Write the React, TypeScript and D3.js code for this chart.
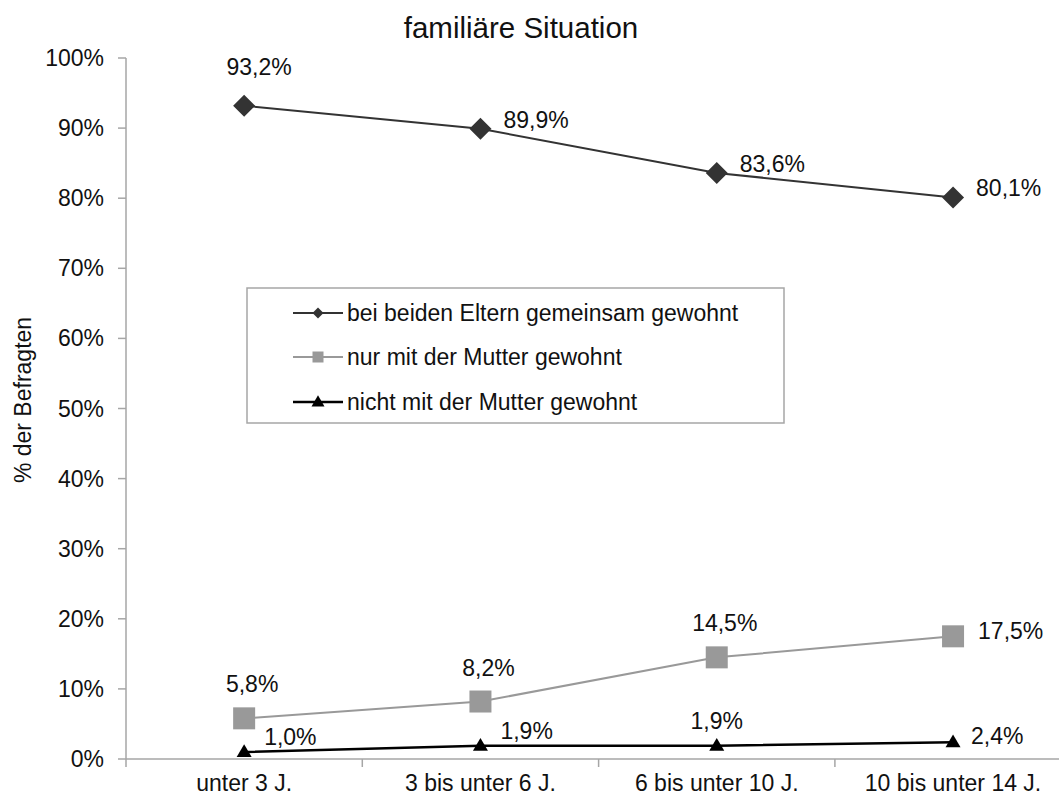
import React from "react";
import * as d3 from "d3";

const categories = ["unter 3 J.", "3 bis unter 6 J.", "6 bis unter 10 J.", "10 bis unter 14 J."];
const beideEltern = [93.2, 89.9, 83.6, 80.1];
const nurMutter = [5.8, 8.2, 14.5, 17.5];
const nichtMutter = [1.0, 1.9, 1.9, 2.4];
const yTicks = [0, 10, 20, 30, 40, 50, 60, 70, 80, 90, 100];
const seriesNames = [
  "bei beiden Eltern gemeinsam gewohnt",
  "nur mit der Mutter gewohnt",
  "nicht mit der Mutter gewohnt",
];
const title = "familiäre Situation";
const yLabel = "% der Befragten";

const W = 1059;
const H = 796;
const FONT = "Arial, 'Liberation Sans', Helvetica, sans-serif";

type Place = "above" | "right" | "rightLow";

const seriesCfg = [
  {
    values: beideEltern,
    color: "#333333",
    lineWidth: 2,
    marker: "diamond",
    places: ["above", "right", "right", "right"] as Place[],
    offsets: { above: [15, -31], right: [23, -1], rightLow: [23, 3] },
  },
  {
    values: nurMutter,
    color: "#999999",
    lineWidth: 2,
    marker: "square",
    places: ["above", "above", "above", "right"] as Place[],
    offsets: { above: [8, -26], right: [25, 3], rightLow: [25, 3] },
  },
  {
    values: nichtMutter,
    color: "#000000",
    lineWidth: 2.5,
    marker: "triangle",
    places: ["right", "right", "above", "rightLow"] as Place[],
    offsets: { above: [0, -17], right: [20, -7], rightLow: [18, 2] },
  },
];

function fmt(v: number) {
  return v.toFixed(1).replace(".", ",") + "%";
}

function Marker({ kind, x, y, size, color }: { kind: string; x: number; y: number; size: number; color: string }) {
  if (kind === "diamond") {
    const r = size / 2;
    return <path d={`M${x},${y - r}L${x + r},${y}L${x},${y + r}L${x - r},${y}Z`} fill={color} />;
  }
  if (kind === "square") {
    const r = size / 2;
    return <rect x={x - r} y={y - r} width={size} height={size} fill={color} />;
  }
  const w = size;
  const h = size * 0.85;
  return <path d={`M${x},${y - h * 0.6}L${x + w / 2},${y + h * 0.4}L${x - w / 2},${y + h * 0.4}Z`} fill={color} />;
}

export default function App() {
  const x0 = 126;
  const band = 236.3;
  const x = d3.scaleBand<string>().domain(categories).range([x0, x0 + band * categories.length]).paddingInner(0).paddingOuter(0);
  const y = d3.scaleLinear().domain([0, 100]).range([759, 58]);
  const cx = (c: string) => (x(c) as number) + x.bandwidth() / 2;

  const line = d3
    .line<number>()
    .x((_, i) => cx(categories[i]))
    .y((d) => y(d));

  const boundaries = categories.map((c) => x(c) as number).concat([x0 + band * categories.length]);

  const axisColor = "#a6a6a6";

  const legend = { x: 247, y: 288, w: 537, h: 135 };
  const legendRows = [313, 357, 402];

  return (
    <svg width={W} height={H} style={{ position: "absolute", left: 0, top: 0, background: "#fff" }} fontFamily={FONT}>
      <rect x={0} y={0} width={W} height={H} fill="#fff" />
      <text x={521} y={38} textAnchor="middle" fontSize={29.5} fill="#111">
        {title}
      </text>

      {/* y axis */}
      <line x1={x0} x2={x0} y1={y(100)} y2={y(0)} stroke={axisColor} strokeWidth={1.5} />
      {yTicks.map((t) => (
        <g key={t}>
          <line x1={x0 - 8} x2={x0} y1={y(t)} y2={y(t)} stroke={axisColor} strokeWidth={1.5} />
          <text x={104} y={y(t) + 8} textAnchor="end" fontSize={23} fill="#111">
            {t}%
          </text>
        </g>
      ))}
      <text transform={`translate(31,400) rotate(-90)`} textAnchor="middle" fontSize={23} fill="#111">
        {yLabel}
      </text>

      {/* x axis */}
      <line x1={x0} x2={boundaries[boundaries.length - 1]} y1={y(0)} y2={y(0)} stroke={axisColor} strokeWidth={1.5} />
      {boundaries.map((b, i) => (
        <line key={i} x1={b} x2={b} y1={y(0)} y2={y(0) + 8} stroke={axisColor} strokeWidth={1.5} />
      ))}
      {categories.map((c) => (
        <text key={c} x={cx(c)} y={791} textAnchor="middle" fontSize={23} fill="#111">
          {c}
        </text>
      ))}

      {/* series */}
      {seriesCfg.map((s, si) => (
        <g key={si}>
          <path d={line(s.values) as string} fill="none" stroke={s.color} strokeWidth={s.lineWidth} />
          {s.values.map((v, i) => (
            <Marker
              key={i}
              kind={s.marker}
              x={cx(categories[i])}
              y={y(v)}
              size={s.marker === "triangle" ? 15 : 22}
              color={s.color}
            />
          ))}
          {s.values.map((v, i) => {
            const p = s.places[i];
            const off = s.offsets[p];
            return (
              <text
                key={"l" + i}
                x={cx(categories[i]) + off[0]}
                y={y(v) + off[1]}
                textAnchor={p === "above" ? "middle" : "start"}
                fontSize={23}
                fill="#111"
              >
                {fmt(v)}
              </text>
            );
          })}
        </g>
      ))}

      {/* legend */}
      <rect x={legend.x} y={legend.y} width={legend.w} height={legend.h} fill="#fff" stroke={axisColor} strokeWidth={1.5} />
      {seriesCfg.map((s, i) => (
        <g key={i}>
          <line x1={293} x2={343} y1={legendRows[i]} y2={legendRows[i]} stroke={s.color} strokeWidth={s.lineWidth} />
          <Marker
            kind={s.marker}
            x={318}
            y={legendRows[i]}
            size={s.marker === "diamond" ? 11 : s.marker === "square" ? 11 : 13}
            color={s.color}
          />
          <text x={347} y={legendRows[i] + 8} fontSize={23} fill="#111">
            {seriesNames[i]}
          </text>
        </g>
      ))}
    </svg>
  );
}
